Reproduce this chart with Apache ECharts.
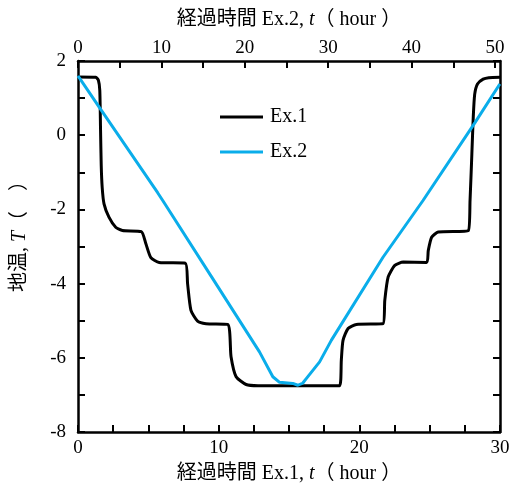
<!DOCTYPE html>
<html><head><meta charset="utf-8">
<script src="https://cdn.jsdelivr.net/npm/echarts@6/dist/echarts.min.js"></script>
<style>html,body{margin:0;padding:0;background:#fff}#c{width:515px;height:489px}</style>
</head><body><div id="c"></div>
<script>
// Ex.1: elapsed time t (hour, bottom axis) vs ground temperature T
const ex1Time = [0,1.26,1.45,1.55,1.6,1.65,1.72,1.85,2.2,2.68,3.16,4.5,4.82,5.18,5.77,7.63,7.79,8.03,8.5,9.1,10.64,10.88,11.24,11.95,12.8,18.6,18.72,18.84,19.2,19.79,21.69,21.81,22.05,22.52,23.12,24.78,24.9,25.14,25.61,27.75,27.87,28.0,28.1,28.2,28.4,28.8,29.2,30];
const ex1Temp = [1.57,1.56,1.48,1.2,0.2,-0.8,-1.41,-1.85,-2.21,-2.48,-2.57,-2.6,-2.92,-3.3,-3.43,-3.45,-4.0,-4.72,-5.01,-5.08,-5.1,-5.97,-6.51,-6.72,-6.75,-6.75,-6.06,-5.53,-5.21,-5.10,-5.08,-4.45,-3.82,-3.51,-3.42,-3.43,-3.11,-2.75,-2.61,-2.57,-1.76,-0.5,0.5,1.1,1.38,1.51,1.55,1.56];
// Ex.2: elapsed time t (hour, top axis) vs ground temperature T
const ex2Time = [0,2.56,9.55,10.16,15.96,21.76,23.36,24.17,25.76,26.36,26.96,27.37,28.97,30.37,36.57,41.37,47.6,50.58];
const ex2Temp = [1.60,0.75,-1.55,-1.76,-3.8,-5.84,-6.51,-6.66,-6.69,-6.74,-6.68,-6.56,-6.11,-5.53,-3.29,-1.76,0.34,1.38];
const seriesNames = ['Ex.1','Ex.2'];
const bottomAxisName = '経過時間 Ex.1, {i|t}（ hour ）';
const topAxisName = '経過時間 Ex.2, {i|t}（ hour ）';
const yAxisName = '地温, {i|T}（　）';

const serif = '"Liberation Serif", "Noto Sans CJK JP"';
const axLine = {show:true, onZero:false, lineStyle:{color:'#000', width:2.5}};
const tick = {show:true, inside:true, length:7, lineStyle:{color:'#000', width:2}};
const nameStyle = {fontFamily:serif, fontSize:20, color:'#000', rich:{i:{fontFamily:'"Liberation Serif"', fontStyle:'italic', fontSize:20, color:'#000'}}};
const lblStyle = {fontFamily:'"Liberation Serif"', fontSize:19, color:'#000'};

const chart = echarts.init(document.getElementById('c'), null, {renderer:'canvas'});
chart.setOption({
  animation:false,
  backgroundColor:'#fff',
  grid:{left:78, right:15, top:61, bottom:57, containLabel:false, outerBoundsMode:'none'},
  legend:{
    data:seriesNames.map(n=>({name:n, icon:'rect'})), orient:'vertical', left:220, top:107, itemGap:15,
    padding:0, itemWidth:43, itemHeight:3,
    textStyle:{fontFamily:'"Liberation Serif"', fontSize:20, color:'#000', padding:[0,0,0,2]}
  },
  xAxis:[
    {type:'value', position:'bottom', min:0, max:30, interval:2.5,
     axisLine:axLine, axisTick:tick, splitLine:{show:false},
     axisLabel:{...lblStyle, margin:7, formatter:v=> (Math.abs(v%10)<1e-9 ? String(v) : '')},
     name:bottomAxisName, nameLocation:'middle', nameGap:32, nameMoveOverlap:false, nameTextStyle:nameStyle},
    {type:'value', position:'top', min:0, max:50.6, interval:5,
     axisLine:axLine, axisTick:tick, splitLine:{show:false},
     axisLabel:{...lblStyle, margin:3, showMaxLabel:false, formatter:v=> (Math.abs(v%10)<1e-9 ? String(v) : '')},
     name:topAxisName, nameLocation:'middle', nameGap:31, nameMoveOverlap:false, nameTextStyle:nameStyle}
  ],
  yAxis:[
    {type:'value', position:'left', min:-8, max:2, interval:1,
     axisLine:axLine, axisTick:tick, splitLine:{show:false},
     axisLabel:{...lblStyle, margin:12, formatter:v=> (Math.abs(v%2)<1e-9 ? String(v) : '')},
     name:yAxisName, nameLocation:'middle', nameGap:48, nameRotate:90, nameMoveOverlap:false,
     nameTextStyle:{...nameStyle, padding:[0,0,0,30]}},
    {type:'value', position:'right', min:-8, max:2, interval:1,
     axisLine:axLine, axisTick:tick, splitLine:{show:false}, axisLabel:{show:false}}
  ],
  series:[
    {name:seriesNames[0], type:'line', xAxisIndex:0, yAxisIndex:0, symbol:'none',
     smooth:0.2, data:ex1Time.map((t,i)=>[t, ex1Temp[i]]),
     lineStyle:{color:'#000', width:3}, itemStyle:{color:'#000'}, z:3},
    {name:seriesNames[1], type:'line', xAxisIndex:1, yAxisIndex:0, symbol:'none',
     data:ex2Time.map((t,i)=>[t, ex2Temp[i]]),
     lineStyle:{color:'#0AADEA', width:3}, itemStyle:{color:'#0AADEA'}, z:4}
  ]
});
</script></body></html>
